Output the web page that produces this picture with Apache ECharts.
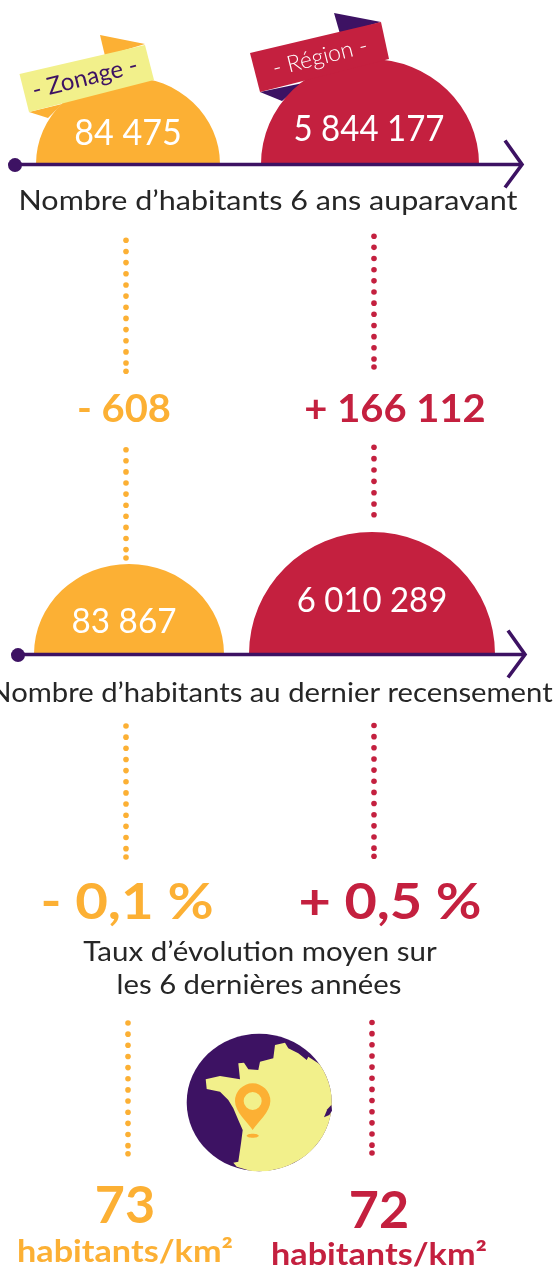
<!DOCTYPE html>
<html><head><meta charset="utf-8">
<style>html,body{margin:0;padding:0;background:#fff}#c{width:555px;height:1268px}</style>
<script src="https://cdn.jsdelivr.net/npm/echarts@6/dist/echarts.min.js"></script>
</head><body><div id="c"></div>
<script>
// --- data
const zones = ['Zonage', 'Région'];
const populationBefore = [84475, 5844177];
const populationNow = [83867, 6010289];
const populationChange = [-608, 166112];
const yearlyRate = ['- 0,1 %', '+ 0,5 %'];
const density = [73, 72];
const densityUnit = 'habitants/km²';
const captions = ['Nombre d’habitants 6 ans auparavant', 'Nombre d’habitants au dernier recensement',
  'Taux d’évolution moyen sur', 'les 6 dernières années'];

// --- style
const ORANGE = '#fcb034', RED = '#c4203f', PURPLE = '#3d1263', YELLOW = '#f2f08b', INK = '#262626';
const zoneColors = [ORANGE, RED];
const FONT = 'Lato';
const fmt = v => String(Math.abs(v)).replace(/\B(?=(\d{3})+$)/g, ' ');
const signed = v => (v < 0 ? '- ' : '+ ') + fmt(v);

// --- layout of the two rows of domes
const domeRows = [
  { values: populationBefore, base: 164, domes: [
    { cx: 128, rx: 92, ry: 87, tx: 128, ty: 133, fs: 37, sx: 0.95 },
    { cx: 370, rx: 109, ry: 105, tx: 369, ty: 129, fs: 37, sx: 0.92 } ] },
  { values: populationNow, base: 654, domes: [
    { cx: 129, rx: 95, ry: 90, tx: 124, ty: 622, fs: 35, sx: 0.98 },
    { cx: 372, rx: 123, ry: 122, tx: 372, ty: 601, fs: 35, sx: 0.97 } ] }
];
const domeData = [];
domeRows.forEach((row, r) => row.values.forEach((v, i) => domeData.push({ value: [r, i, v] })));

function renderDome(params, api) {
  const r = api.value(0), i = api.value(1);
  const d = domeRows[r].domes[i], base = domeRows[r].base;
  return { type: 'sector', x: d.cx, y: base, scaleY: d.ry / d.rx,
    shape: { cx: 0, cy: 0, r: d.rx, r0: 0, startAngle: Math.PI, endAngle: 2 * Math.PI, clockwise: true },
    style: { fill: zoneColors[i] } };
}

const g = [];
const txt = (text, x, y, size, fill, weight, rot, sx) => g.push({ type: 'text', x, y, rotation: rot || 0, scaleX: sx || 1, z: 20,
  style: { text, fontFamily: FONT, fontSize: size, fontWeight: weight || 300, fill, align: 'center', verticalAlign: 'middle' } });
const poly = (points, fill, z) => g.push({ type: 'polygon', z: z, shape: { points }, style: { fill } });
// dotted connectors: a run of regular dots and one closing dot
const dots = (x, first, step, n, closing, color) => {
  for (let i = 0; i <= n; i++) {
    const y = i < n ? first + i * step : closing;
    g.push({ type: 'circle', z: 6, shape: { cx: x, cy: y, r: 2.8 }, style: { fill: color } });
  }
};

// timeline arrows
function timeline(y, dotX, tip) {
  g.push({ type: 'line', z: 12, shape: { x1: dotX, y1: y, x2: tip, y2: y }, style: { stroke: PURPLE, lineWidth: 3.4 } });
  g.push({ type: 'circle', z: 13, shape: { cx: dotX, cy: y + 0.6, r: 7 }, style: { fill: PURPLE } });
  g.push({ type: 'polyline', z: 13, shape: { points: [[tip - 17, y - 24], [tip, y], [tip - 17, y + 23]] },
    style: { stroke: PURPLE, lineWidth: 3.6, fill: 'none' } });
}
timeline(164.5, 15, 522);
timeline(654.5, 18, 525);

// ribbons
poly([[100, 35], [145, 44], [105, 56]], ORANGE, 1);
poly([[29, 112], [48, 118], [62, 104]], ORANGE, 1);
poly([[19.5, 74], [145, 45], [154, 80], [29, 112]], YELLOW, 15);
poly([[334, 13], [381, 22], [340, 34]], PURPLE, 1);
poly([[260, 92], [282, 101], [303, 83]], PURPLE, 1);
poly([[250, 53], [381, 22], [389, 59], [260, 92]], RED, 15);
txt('- ' + zones[0] + ' -', 85, 78, 24, PURPLE, 400, 0.245, 1);
txt('- ' + zones[1] + ' -', 320, 57, 23, '#fff', 300, 0.245, 1);

// dome values
domeRows.forEach(row => row.values.forEach((v, i) => txt(fmt(v), row.domes[i].tx, row.domes[i].ty, row.domes[i].fs, '#fff', 400, 0, row.domes[i].sx * 0.97)));

dots(126, 240.3, 11.16, 12, 371.3, ORANGE); dots(374, 236.2, 11.16, 12, 367, RED);
dots(126, 449.7, 11.1, 10, 558, ORANGE); dots(374, 447.3, 11.35, 6, 514.7, RED);
dots(126, 726, 11.15, 12, 857, ORANGE); dots(374, 725.5, 11.15, 12, 856.3, RED);
dots(128, 1023, 11.15, 12, 1153.7, ORANGE); dots(372, 1022.5, 11.15, 12, 1153, RED);

// captions
txt(captions[0], 268, 201, 27, INK, 400, 0, 1.13);
txt(captions[1], 271, 693, 27, INK, 400, 0, 1.083);
txt(captions[2], 260, 952, 27, INK, 400, 0, 1.093);
txt(captions[3], 259, 985, 27, INK, 400, 0, 1.084);

// changes and rates
txt(signed(populationChange[0]), 124, 410, 38, ORANGE, 'bold', 0, 1.05);
txt(signed(populationChange[1]), 395, 410, 38, RED, 'bold', 0, 1.05);
txt(yearlyRate[0], 127, 903, 49, ORANGE, 'bold', 0, 1.15);
txt(yearlyRate[1], 390, 903, 49, RED, 'bold', 0, 1.14);
txt(String(density[0]), 125, 1206, 52, ORANGE, 'bold');
txt(densityUnit, 125, 1252, 30, ORANGE, 'bold', 0, 1.14);
txt(String(density[1]), 379, 1211, 52, RED, 'bold');
txt(densityUnit, 379, 1255, 30, RED, 'bold', 0, 1.14);

// globe with map of western France
const franceCoast = [[240,452],[200,440],[190,428],[205,425],[213,370],[218,330],[205,300],[190,265],[175,240],[150,215],
  [110,207],[107,178],[150,168],[210,178],[205,130],[222,128],[235,148],[265,150],[270,125],[310,115],[315,75],[345,68],
  [355,85],[385,100],[410,120],[415,110],[445,130],[450,135]];
const lake = [[484,255],[472,268],[462,292],[478,285],[486,272]];
const px = p => [p[0] / 3 + 170, p[1] / 3 + 1020];
function renderGlobe() {
  const coast = franceCoast.map(px);
  let france = 'M' + coast.map(p => p[0].toFixed(1) + ' ' + p[1].toFixed(1)).join(' L');
  france += ' A72.5 68.7 0 0 1 ' + coast[0][0].toFixed(1) + ' ' + coast[0][1].toFixed(1) + ' Z';
  const pc = px([248, 243]), tipY = px([248, 330])[1], R = 17.7;
  const pin = `M${pc[0]-R} ${pc[1]} A${R} ${R} 0 1 1 ${pc[0]+R} ${pc[1]} C${pc[0]+R} ${pc[1]+11} ${pc[0]+5} ${tipY-8} ${pc[0]} ${tipY} C${pc[0]-5} ${tipY-8} ${pc[0]-R} ${pc[1]+11} ${pc[0]-R} ${pc[1]} Z`;
  return { type: 'group', children: [
    { type: 'ellipse', shape: { cx: 259.2, cy: 1102.5, rx: 72.5, ry: 68.7 }, style: { fill: PURPLE } },
    { type: 'path', shape: { pathData: france }, style: { fill: YELLOW } },
    { type: 'polygon', shape: { points: lake.map(px) }, style: { fill: PURPLE } },
    { type: 'path', shape: { pathData: pin }, style: { fill: ORANGE } },
    { type: 'circle', shape: { cx: pc[0], cy: pc[1], r: 9 }, style: { fill: YELLOW } },
    { type: 'ellipse', shape: { cx: pc[0], cy: tipY + 5.7, rx: 6, ry: 2 }, style: { fill: ORANGE } }
  ] };
}

const chart = echarts.init(document.getElementById('c'), null, { renderer: 'canvas' });
chart.setOption({
  animation: false,
  backgroundColor: '#fff',
  series: [
    { type: 'custom', coordinateSystem: 'none', z: 2, renderItem: renderDome, data: domeData, silent: true },
    { type: 'custom', coordinateSystem: 'none', z: 8, renderItem: renderGlobe, data: [[0]], silent: true }
  ],
  graphic: { elements: g }
});
</script></body></html>
